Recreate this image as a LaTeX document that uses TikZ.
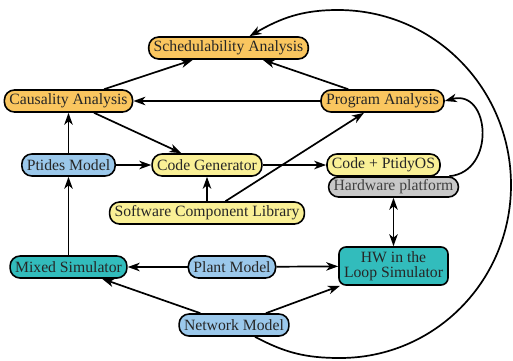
\documentclass[tikz,border=0pt]{standalone}
\usepackage{fontspec}
\setmainfont{Liberation Serif}
\usetikzlibrary{arrows.meta}

\definecolor{anaorange}{RGB}{250,198,95}
\definecolor{genyellow}{RGB}{250,240,150}
\definecolor{modblue}{RGB}{155,200,235}
\definecolor{simteal}{RGB}{50,188,188}
\definecolor{hwgray}{RGB}{200,200,200}

\begin{document}
\begin{tikzpicture}[x=1pt,y=1pt,line width=1.7pt,
		>={Stealth[length=12pt,width=8.5pt,inset=3.5pt]},
		font=\fontsize{15.7}{14.5}\selectfont]
				\tikzstyle{pill}=[draw, line width=1.6pt, rectangle, rounded corners=10pt,
					minimum height=22pt, inner xsep=5pt, inner ysep=2pt, text=black!85]
				\tikzstyle{ana}=[pill, fill=anaorange]
				\tikzstyle{gen}=[pill, fill=genyellow]
				\tikzstyle{mdl}=[pill, fill=modblue]
				\tikzstyle{sim}=[pill, fill=simteal]
				\tikzstyle{hw}=[pill, fill=hwgray, minimum height=20pt, text=black!75]

				\useasboundingbox (0,0) rectangle (513,360);

				\node[ana] (caus) at (68.5,259) {Causality Analysis};
				\node[ana] (prog) [right of=caus, node distance=314pt] {Program Analysis};
				\node[ana] (sched) [above of=caus, node distance=53pt, xshift=160pt] {Schedulability Analysis};
				\node[mdl] (ptides) [below of=caus, node distance=64pt] {Ptides Model};
				\node[gen] (codegen) [right of=ptides, node distance=138.5pt] {Code Generator};
				\node[gen] (codeos) [right of=codegen, node distance=176.5pt] {Code + PtidyOS};
				\node[hw] (hwp) [below of=codeos, node distance=22pt, xshift=10pt] {Hardware platform};
				\node[gen] (swlib) [below of=codegen, node distance=48pt] {Software Component Library};
				\node[sim] (mixsim) [below of=ptides, node distance=102pt] {Mixed Simulator};
				\node[mdl] (plant) [right of=mixsim, node distance=163.5pt] {Plant Model};
				\node[sim, rounded corners=7pt, minimum width=107pt, minimum height=38pt,
					align=center] (hil) [right of=plant, node distance=161.5pt, yshift=1pt] {HW in the\\Loop Simulator};
				\node[mdl] (net) [below of=plant, node distance=58pt, xshift=2pt] {Network Model};

				\foreach \from/\to in {caus/sched,prog/sched,prog/caus,caus/codegen,
					ptides/caus,ptides/codegen,codegen/codeos,swlib/codegen,swlib/prog,
					mixsim/ptides,plant/mixsim,plant/hil,net/mixsim,net/hil}
				\draw [->] (\from) -- (\to);
				\draw [<->] (hwp) -- (hil);

				% feedback loops
				\draw [->] ([xshift=-10pt]hwp.north east) to[out=5,in=15,looseness=1.6] (prog.east);
				\draw [->] ([xshift=21pt]net.south) to[out=-28,in=180] (340,2)
					to[out=0,in=-90] (511,175) to[out=90,in=0] (338,350)
					to[out=180,in=30] ([xshift=21pt]sched.north);
			\end{tikzpicture}
\end{document}
